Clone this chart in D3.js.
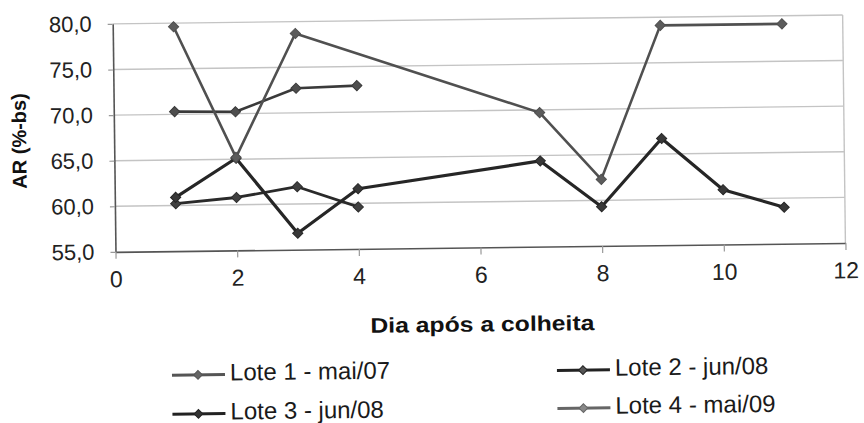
<!DOCTYPE html>
<html>
<head>
<meta charset="utf-8">
<script src="https://cdn.jsdelivr.net/npm/d3@7"></script>
<style>
  body { margin: 0; background: #fff; }
  text { font-family: "Liberation Sans", Arial, sans-serif; }
</style>
</head>
<body>
<svg id="chart" width="864" height="423"></svg>
<script>
// dados
const nomes = ["Lote 1 - mai/07", "Lote 2 - jun/08", "Lote 3 - jun/08", "Lote 4 - mai/09"];
const dias1 = [1, 2, 3, 4];
const lote1 = [70.3, 70.2, 72.7, 72.9];
const dias2 = [1, 2, 3, 4];
const lote2 = [60.2, 60.8, 61.9, 59.6];
const dias3 = [1, 2, 3, 4, 7, 8, 9, 10, 11];
const lote3 = [60.9, 65.1, 56.8, 61.6, 64.4, 59.3, 66.7, 61.0, 59.0];
const dias4 = [1, 2, 3, 7, 8, 9, 11];
const lote4 = [79.6, 65.2, 78.7, 69.7, 62.3, 79.1, 79.1];
const xTicks = [0, 2, 4, 6, 8, 10, 12];
const yTicks = [55, 60, 65, 70, 75, 80];

const series = [
  {nome: nomes[0], dias: dias1, vals: lote1, cor: "#3a3a3a", marca: "#4e4e4e", lw: 2.6, legCor: "#555", legMarca: "#666"},
  {nome: nomes[1], dias: dias2, vals: lote2, cor: "#2a2a2a", marca: "#404040", lw: 2.8, legCor: "#222", legMarca: "#555"},
  {nome: nomes[2], dias: dias3, vals: lote3, cor: "#262626", marca: "#383838", lw: 3.2, legCor: "#222", legMarca: "#333"},
  {nome: nomes[3], dias: dias4, vals: lote4, cor: "#505050", marca: "#5c5c5c", lw: 2.6, legCor: "#666", legMarca: "#888"}
];

const svg = d3.select("#chart");
// a figura digitalizada está levemente inclinada
const root = svg.append("g").attr("transform", "rotate(-0.7,432,211)");

const x = d3.scaleLinear().domain([0, 12]).range([115, 845]);
const y = d3.scaleLinear().domain([55, 80]).range([248, 20]);

// grade
root.append("g")
  .selectAll("line")
  .data(yTicks.filter(d => d > 55))
  .join("line")
    .attr("x1", x(0)).attr("x2", x(12))
    .attr("y1", d => y(d)).attr("y2", d => y(d))
    .attr("stroke", "#c4c4c4").attr("stroke-width", 1.4);

root.append("line")
  .attr("x1", x(12)).attr("x2", x(12))
  .attr("y1", y(80)).attr("y2", y(55))
  .attr("stroke", "#c4c4c4").attr("stroke-width", 1.4);

// eixos
const yAxis = root.append("g")
  .attr("transform", `translate(${x(0)},0)`)
  .call(d3.axisLeft(y).tickValues(yTicks).tickSize(5).tickSizeOuter(0).tickPadding(16)
    .tickFormat(d => d.toFixed(1).replace(".", ",")));

const xAxis = root.append("g")
  .attr("transform", `translate(0,${y(55)})`)
  .call(d3.axisBottom(x).tickValues(xTicks).tickSize(7).tickSizeOuter(0).tickPadding(12));

[yAxis, xAxis].forEach(g => {
  g.select(".domain").attr("stroke", "#555").attr("stroke-width", 1.6);
  g.selectAll(".tick line").attr("stroke", "#999").attr("stroke-width", 1.2);
  g.selectAll(".tick text").attr("fill", "#222").style("font-size", "22px");
});
xAxis.selectAll(".tick text").style("font-size", "23px");

// linhas e marcadores
const line = d3.line().x(d => x(d[0])).y(d => y(d[1]));
const diamond = d3.symbol().type(d3.symbolSquare).size(52);

series.forEach(s => {
  const pts = s.dias.map((d, i) => [d, s.vals[i]]);
  root.append("path")
    .datum(pts)
    .attr("d", line)
    .attr("fill", "none")
    .attr("stroke", s.cor)
    .attr("stroke-width", s.lw)
    .attr("stroke-linejoin", "round");
  root.append("g")
    .selectAll("path")
    .data(pts)
    .join("path")
      .attr("d", diamond)
      .attr("transform", d => `translate(${x(d[0])},${y(d[1])}) rotate(45)`)
      .attr("fill", s.marca)
      .attr("stroke", s.cor)
      .attr("stroke-width", 1);
});

// títulos dos eixos
root.append("text")
  .attr("x", 481).attr("y", 332)
  .attr("text-anchor", "middle")
  .attr("textLength", 224).attr("lengthAdjust", "spacingAndGlyphs")
  .style("font-size", "21px").style("font-weight", "bold").attr("fill", "#111")
  .text("Dia após a colheita");

root.append("text")
  .attr("transform", "translate(27,136) rotate(-90)")
  .attr("text-anchor", "middle")
  .style("font-size", "20px").style("font-weight", "bold").attr("fill", "#111")
  .text("AR (%-bs)");

// legenda
const legPos = [[170, 378], [555, 378], [170, 417], [555, 416]];
const leg = root.append("g");
series.forEach((s, i) => {
  const [lx, ly] = legPos[i];
  const g = leg.append("g").attr("transform", `translate(${lx},${ly})`);
  g.append("line")
    .attr("x1", 0).attr("x2", 53).attr("y1", -6).attr("y2", -6)
    .attr("stroke", s.legCor).attr("stroke-width", 3);
  g.append("path")
    .attr("d", d3.symbol().type(d3.symbolSquare).size(38)())
    .attr("transform", "translate(26,-6) rotate(45)")
    .attr("fill", s.legMarca).attr("stroke", s.legCor).attr("stroke-width", 1);
  g.append("text")
    .attr("x", 58).attr("y", 0)
    .style("font-size", "24px").attr("fill", "#1a1a1a")
    .text(s.nome);
});
</script>
</body>
</html>
